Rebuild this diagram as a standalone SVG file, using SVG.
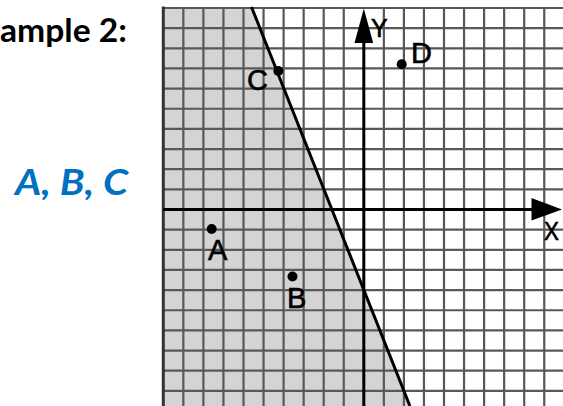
<svg xmlns="http://www.w3.org/2000/svg" width="563" height="406" viewBox="0 0 563 406">
<style>
.grid{fill:none;stroke:#585858;stroke-width:2.2}
.axis{stroke:#000;stroke-width:3;fill:none}
.dot{fill:#000}
.lbl{font-family:"Liberation Sans",Arial,sans-serif;font-size:29px;fill:#000;stroke:#000;stroke-width:0.6}
.ax{font-family:"Liberation Sans",Arial,sans-serif;font-size:25px;fill:#000;stroke:#000;stroke-width:0.6}
</style>
<rect width="563" height="406" fill="#fff"/>
<g id="title">
<text x="0" y="42" font-family="Lato, 'Liberation Sans', sans-serif" font-weight="bold" font-size="33" textLength="127" lengthAdjust="spacingAndGlyphs" fill="#000">ample 2:</text>
</g>
<g id="answer">
<text x="15" y="195" font-family="Lato, 'Liberation Sans', sans-serif" font-weight="bold" font-style="italic" font-size="36" textLength="113" lengthAdjust="spacingAndGlyphs" fill="#0070c0">A, B, C</text>
</g>
<g id="plane">
<polygon id="shade" points="163.3,8 251.5,8 409.9,406 163.3,406" fill="#d4d4d4"/>
<path class="grid" d="M183.35 8V406M203.4 8V406M223.45 8V406M243.5 8V406M263.55 8V406M283.6 8V406M303.65 8V406M323.7 8V406M343.75 8V406M383.85 8V406M403.9 8V406M423.95 8V406M444 8V406M464.05 8V406M484.1 8V406M504.15 8V406M524.2 8V406M544.25 8V406
M163.3 8H563M163.3 28.15H563M163.3 48.3H563M163.3 68.45H563M163.3 88.6H563M163.3 108.75H563M163.3 128.9H563M163.3 149.05H563M163.3 169.2H563M163.3 189.35H563M163.3 229.65H563M163.3 249.8H563M163.3 269.95H563M163.3 290.1H563M163.3 310.25H563M163.3 330.4H563M163.3 350.55H563M163.3 370.7H563M163.3 390.85H563"/>
<line x1="163.3" y1="6.5" x2="163.3" y2="406" stroke="#333" stroke-width="3"/>
</g>
<g id="connectors">
<line class="axis" x1="163" y1="209.5" x2="534" y2="209.5"/>
<polygon points="531.5,198 562,209.5 531.5,220.5" fill="#000"/>
<line class="axis" x1="363.8" y1="406" x2="363.8" y2="40"/>
<polygon points="354.5,43 363.8,8.5 373.2,43" fill="#000"/>
<line x1="251.5" y1="7" x2="409.9" y2="406" stroke="#000" stroke-width="3"/>
</g>
<g id="axis-labels">
<text class="ax" x="371" y="37">Y</text>
<text class="ax" x="544" y="240" textLength="15" lengthAdjust="spacingAndGlyphs">X</text>
</g>
<g id="point-A"><circle class="dot" cx="211.7" cy="229" r="5"/><text class="lbl" x="208" y="260">A</text></g>
<g id="point-B"><circle class="dot" cx="292.5" cy="276.5" r="5"/><text class="lbl" x="287" y="308">B</text></g>
<g id="point-C"><circle class="dot" cx="278.3" cy="71" r="5"/><text class="lbl" x="247" y="90">C</text></g>
<g id="point-D"><circle class="dot" cx="401.7" cy="64.3" r="5"/><text class="lbl" x="411" y="63">D</text></g>
</svg>
